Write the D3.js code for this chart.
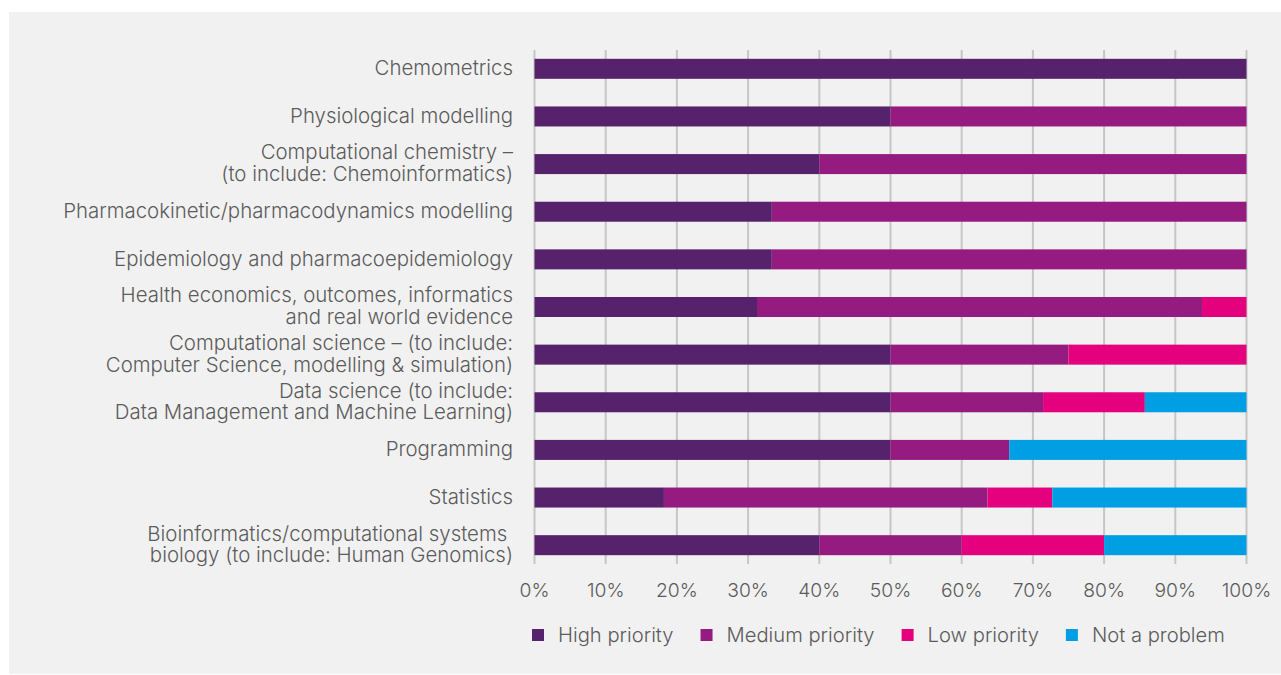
<!DOCTYPE html>
<html>
<head>
<meta charset="utf-8">
<script src="https://cdn.jsdelivr.net/npm/d3@7"></script>
<style>
  html, body { margin: 0; padding: 0; background: #ffffff; }
  svg { display: block; }
  text { font-family: Inter, Roboto, "Liberation Sans", sans-serif; font-weight: 300; fill: #5b5b5b; }
</style>
</head>
<body>
<svg id="chart" width="1281" height="675"></svg>
<script>
// Skills areas (each label may wrap over two lines)
const categories = [
  ["Chemometrics"],
  ["Physiological modelling"],
  ["Computational chemistry –", "(to include: Chemoinformatics)"],
  ["Pharmacokinetic/pharmacodynamics modelling"],
  ["Epidemiology and pharmacoepidemiology"],
  ["Health economics, outcomes, informatics", "and real world evidence"],
  ["Computational science – (to include:", "Computer Science, modelling & simulation)"],
  ["Data science (to include:", "Data Management and Machine Learning)"],
  ["Programming"],
  ["Statistics"],
  ["Bioinformatics/computational systems ", "biology (to include: Human Genomics)"]
];

// Share of responses per priority level (%), same order as categories
const highPriority   = [100, 50, 40, 33.33, 33.33, 31.25, 50, 50,    50,    18.18, 40];
const mediumPriority = [0,   50, 60, 66.67, 66.67, 62.5,  25, 21.43, 16.67, 45.45, 20];
const lowPriority    = [0,   0,  0,  0,     0,     6.25,  25, 14.29, 0,     9.09,  20];
const notAProblem    = [0,   0,  0,  0,     0,     0,     0,  14.28, 33.33, 27.28, 20];

const seriesNames = ["High priority", "Medium priority", "Low priority", "Not a problem"];
const seriesColors = ["#55226b", "#951b81", "#e5007d", "#009fe3"];
const tickValues = [0, 10, 20, 30, 40, 50, 60, 70, 80, 90, 100];

const svg = d3.select("#chart");

// panel background
svg.append("rect")
  .attr("x", 9).attr("y", 12)
  .attr("width", 1272).attr("height", 662)
  .attr("fill", "#f1f1f1");

const x = d3.scaleLinear().domain([0, 100]).range([534.5, 1246.5]);
const y = d3.scaleBand().domain(d3.range(categories.length)).range([45, 569]).paddingInner(0.58).paddingOuter(0.29);

// gridlines
svg.append("g").selectAll("line")
  .data(tickValues)
  .join("line")
  .attr("x1", d => x(d)).attr("x2", d => x(d))
  .attr("y1", 50).attr("y2", 564)
  .attr("stroke", "#c6c6c6")
  .attr("stroke-width", 2);

// stacked bars
const rows = categories.map((c, i) => ({
  i,
  "High priority": highPriority[i],
  "Medium priority": mediumPriority[i],
  "Low priority": lowPriority[i],
  "Not a problem": notAProblem[i]
}));
const stack = d3.stack().keys(seriesNames)(rows);

svg.append("g").selectAll("g")
  .data(stack)
  .join("g")
  .attr("fill", (d, k) => seriesColors[k])
  .selectAll("rect")
  .data(d => d.filter(s => s[1] - s[0] > 0))
  .join("rect")
  .attr("x", d => x(d[0]))
  .attr("width", d => x(d[1]) - x(d[0]))
  .attr("y", d => y(d.data.i))
  .attr("height", y.bandwidth());

// category labels, one text per line so wrapped labels stay tight
const labelG = svg.append("g");
categories.forEach((lines, i) => {
  const cy = y(i) + y.bandwidth() / 2 - 1;
  const lh = 21.5;
  lines.forEach((ln, j) => {
    labelG.append("text")
      .attr("text-anchor", "end")
      .attr("font-size", 20.4)
      .style("white-space", "pre")
      .attr("x", 513)
      .attr("y", cy + (j - (lines.length - 1) / 2) * lh)
      .attr("dy", "0.35em")
      .text(ln);
  });
});

// x axis tick labels
svg.append("g").selectAll("text")
  .data(tickValues)
  .join("text")
  .attr("x", d => x(d))
  .attr("y", 590)
  .attr("dy", "0.35em")
  .attr("text-anchor", "middle")
  .attr("font-size", 19.3)
  .text(d => d + "%");

// legend
const legend = svg.append("g");
let lx = 532;
seriesNames.forEach((name, k) => {
  legend.append("rect")
    .attr("x", lx).attr("y", 629)
    .attr("width", 12).attr("height", 12)
    .attr("fill", seriesColors[k]);
  const t = legend.append("text")
    .attr("x", lx + 26)
    .attr("y", 635)
    .attr("dy", "0.35em")
    .attr("font-size", 20.2)
    .text(name);
  lx += 26 + t.node().getComputedTextLength() + 27;
});
</script>
</body>
</html>
